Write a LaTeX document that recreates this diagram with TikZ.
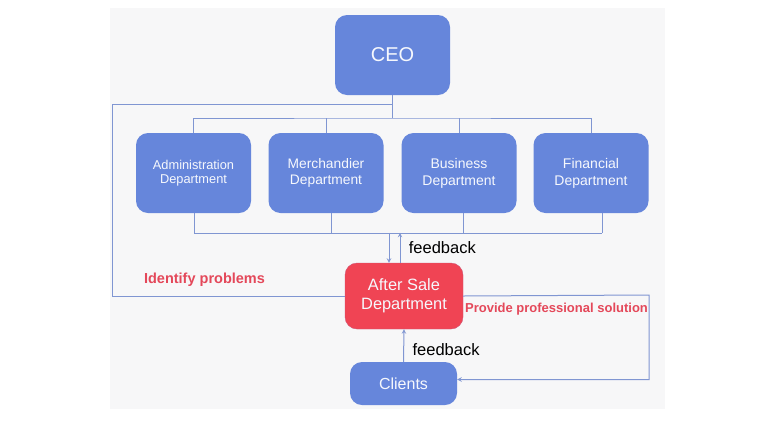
\documentclass[tikz,border=0pt]{standalone}
\usepackage{fontspec}
\setmainfont{Liberation Sans}
\usepackage{xcolor}
\usepackage{tikz}
\usetikzlibrary{arrows}
\definecolor{boxblue}{RGB}{102,134,219}
\definecolor{lineblue}{RGB}{128,150,210}
\definecolor{salered}{RGB}{240,68,84}
\definecolor{notered}{RGB}{228,72,90}
\definecolor{bggray}{RGB}{247,247,248}
\tikzstyle{unit} = [rectangle, rounded corners=12pt, minimum width=115pt, minimum height=80pt, text centered, align=center, fill=boxblue, text=white!94!boxblue]
\tikzstyle{dept} = [unit, font=\fontsize{14}{17}\selectfont]
\tikzstyle{sale} = [unit, fill=salered, draw=salered!75!boxblue, minimum width=118pt, minimum height=66pt, font=\fontsize{16.4}{19.5}\selectfont]
\tikzstyle{note} = [text=notered, font=\bfseries\fontsize{14.5}{17}\selectfont]
\tikzstyle{link} = [draw=lineblue, line width=1pt]
\tikzstyle{arrow} = [link,->,>=stealth]

\begin{document}
\begin{tikzpicture}[x=1pt, y=-1pt]
	\useasboundingbox (0,0) rectangle (770,437);
	\fill [bggray] (110,8) rectangle (665,409);
	\node (ceo) [unit, font=\fontsize{20}{24}\selectfont] at (392.5,55) {CEO};
	\node (admin) [dept, font=\fontsize{12.8}{14.5}\selectfont] at (193.5,173) {Administration\\Department};
	\node (merch) [dept, font=\fontsize{13.8}{16.7}\selectfont] at (326,173) {Merchandier\\Department};
	\node (busi) [dept] at (459,173) {Business\\Department};
	\node (fin) [dept] at (591,173) {Financial\\Department};
	\node (after) [sale] at (404,296) {After Sale\\Department};
	\node (clients) [unit, minimum width=107pt, minimum height=43pt, font=\fontsize{16}{19}\selectfont] at (403.5,383.5) {Clients};
	\coordinate (topbus) at (392.5,118);
	\coordinate (loop) at (112,104);
	\coordinate (rloop) at (649,295);
	% CEO to departments
	\draw [link] (ceo.south) -- (topbus);
	\draw [link] (admin.north) |- (topbus) -| (fin.north);
	\draw [link] (merch.north) -- (merch.north |- topbus);
	\draw [link] (busi.north) -- (busi.north |- topbus);
	% departments to after sale
	\foreach \n/\dx in {admin/0.5, merch/5, busi/4, fin/11}
		\draw [link] ([xshift=\dx pt]\n.south) -- ++(0,20);
	\draw [link] ([xshift=0.5pt,yshift=-20pt]admin.south) -- ([xshift=11pt,yshift=-20pt]fin.south);
	\draw [arrow] ([xshift=-15pt]after.north) ++(0,-30) -- ([xshift=-15pt]after.north);
	\draw [arrow] ([xshift=-4pt]after.north) -- ++(0,-30) node [midway, right, xshift=5pt, font=\fontsize{16.5}{19}\selectfont] {feedback};
	% identify problems
	\draw [link] (loop -| ceo.south) -- (loop) |- (after.west);
	\node (identify) [note] at (204.5,280) {Identify problems};
	% provide solution
	\draw [arrow] (after.east) -- (rloop) |- ([yshift=4pt]clients.east);
	\node (provide) [note, font=\bfseries\fontsize{13}{15}\selectfont] at (556.5,309) {Provide professional solution};
	\draw [arrow] (clients.north) -- (after.south) node [midway, right, xshift=5pt, yshift=-4pt, font=\fontsize{16.5}{19}\selectfont] {feedback};
\end{tikzpicture}
\end{document}
